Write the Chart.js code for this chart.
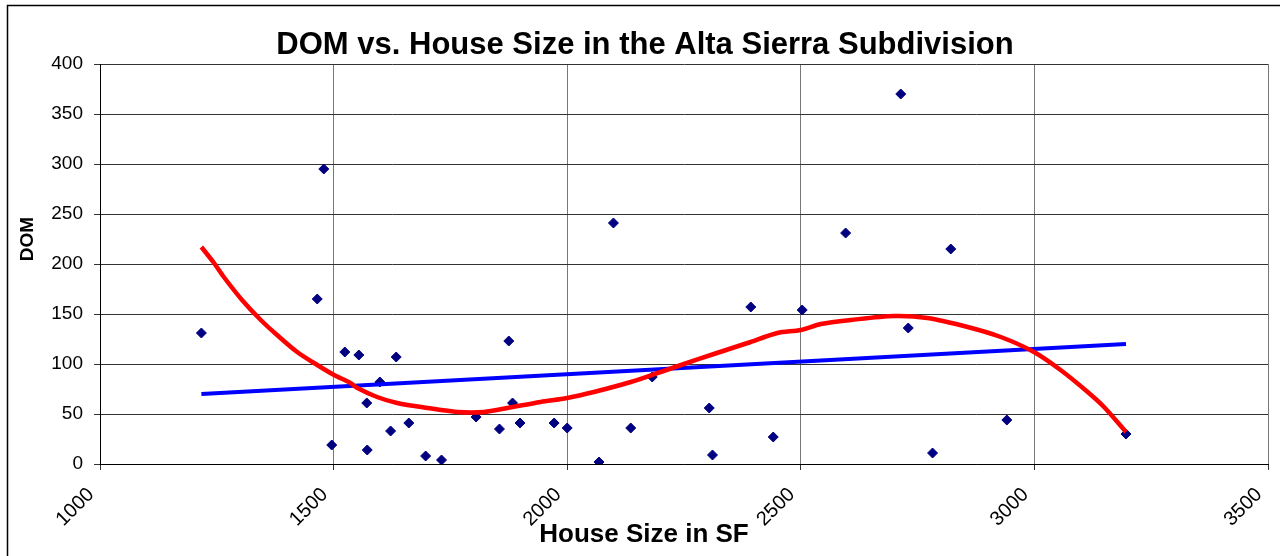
<!DOCTYPE html>
<html><head><meta charset="utf-8">
<script src="https://cdn.jsdelivr.net/npm/chart.js@4.4.1/dist/chart.umd.min.js"></script>
<style>html,body{margin:0;padding:0;background:#fff;overflow:hidden}#wrap{width:1280px;height:556px;position:relative}</style>
</head><body><div id="wrap"><canvas id="c" width="1280" height="556"></canvas></div>
<script>
const chartTitle = 'DOM vs. House Size in the Alta Sierra Subdivision';
const xAxisTitle = 'House Size in SF';
const yAxisTitle = 'DOM';

const houseSize    = [1217, 1465, 1479, 1496, 1524, 1554, 1571, 1572, 1599, 1622, 1634, 1661, 1697, 1731, 1805, 1855, 1875, 1883, 1899, 1972, 2000, 2068, 2099, 2136, 2182, 2304, 2311, 2393, 2441, 2503, 2596, 2714, 2730, 2782, 2821, 2941, 3196];
const daysOnMarket = [ 131,  165,  295,   19,  112,  109,   61,   14,   82,   33,  107,   41,    8,    4,   47,   35,  123,   61,   41,   41,   36,    2,  241,   36,   87,   56,    9,  157,   27,  154,  231,  370,  136,   11,  215,   44,   30];

const linearTrendX = [1217, 3196];
const linearTrendY = [70, 120];

const polyTrendX = [1217, 1244, 1265, 1304, 1344, 1379, 1422, 1465, 1501, 1536, 1551, 1593, 1636, 1701, 1765, 1822, 1872, 1943, 2000, 2057, 2136, 2200, 2250, 2314, 2386, 2450, 2500, 2543, 2607, 2700, 2771, 2857, 2928, 2999, 3056, 3114, 3149, 3196];
const polyTrendY = [ 217,  201,  187,  164,  144,  129,  112,   99,   89,   81,   76,   67,   61,   56,   52,   52,   56,   62,   66,   72,   82,   92,  100,  110,  121,  131,  134,  140,  144,  148,  146,  137,  127,  112,   94,   72,   57,   32];

const xTicks = [1000, 1500, 2000, 2500, 3000, 3500];
const yTicks = [0, 50, 100, 150, 200, 250, 300, 350, 400];

const FONT = '"Liberation Sans", Arial, sans-serif';
const toXY = (xs, ys) => xs.map((x, i) => ({x: x, y: ys[i]}));

const decor = {
  id: 'decor',
  afterDraw(chart) {
    const ctx = chart.ctx;
    ctx.save();
    ctx.strokeStyle = '#000';
    ctx.lineWidth = 1.5;
    ctx.beginPath();
    ctx.moveTo(7.5, 560); ctx.lineTo(7.5, 5.5); ctx.lineTo(1285, 5.5);
    ctx.stroke();
    ctx.fillStyle = '#000';
    ctx.textAlign = 'center';
    ctx.textBaseline = 'alphabetic';
    ctx.font = 'bold 31px ' + FONT;
    ctx.fillText(chartTitle, 645, 54);
    ctx.font = 'bold 26px ' + FONT;
    ctx.fillText(xAxisTitle, 644, 542);
    ctx.translate(33, 239);
    ctx.rotate(-Math.PI / 2);
    ctx.font = 'bold 19px ' + FONT;
    ctx.fillText(yAxisTitle, 0, 0);
    ctx.restore();
  }
};

new Chart(document.getElementById('c'), {
  type: 'scatter',
  data: {
    datasets: [
      { label: 'Poly', data: toXY(polyTrendX, polyTrendY), showLine: true, borderColor: '#ff0000', borderWidth: 4.5, pointRadius: 0, tension: 0.3, fill: false },
      { label: 'Linear', data: toXY(linearTrendX, linearTrendY), showLine: true, borderColor: '#0000ff', borderWidth: 4, pointRadius: 0, fill: false },
      { label: 'DOM', data: toXY(houseSize, daysOnMarket), pointStyle: 'rectRot', pointRadius: 5, backgroundColor: '#000080', borderColor: '#000080', borderWidth: 1, showLine: false }
    ]
  },
  options: {
    responsive: false,
    animation: false,
    devicePixelRatio: 1,
    layout: { padding: { left: 0, top: 64, right: 12, bottom: 0 } },
    plugins: { legend: { display: false }, tooltip: { enabled: false }, title: { display: false } },
    scales: {
      x: {
        type: 'linear', min: 1000, max: 3500,
        afterBuildTicks(s) { s.ticks = xTicks.map(v => ({value: v})); },
        afterFit(s) { s.height = 92; s.paddingLeft = 0; s.paddingRight = 0; },
        ticks: { color: '#000', font: { family: FONT, size: 20 }, minRotation: 45, maxRotation: 45, padding: 13, labelOffset: -9, callback: v => String(v) },
        grid: { color: '#777', lineWidth: 1, tickLength: 6, tickColor: '#333' },
        border: { color: '#000', width: 1 }
      },
      y: {
        type: 'linear', min: 0, max: 400,
        afterBuildTicks(s) { s.ticks = yTicks.map(v => ({value: v})); },
        afterFit(s) { s.width = 100; },
        ticks: { color: '#000', font: { family: FONT, size: 19 }, padding: 11, callback: v => String(v) },
        grid: { color: '#333', lineWidth: 1, tickLength: 6, tickColor: '#333' },
        border: { color: '#000', width: 1 }
      }
    }
  },
  plugins: [decor]
});
</script></body></html>
